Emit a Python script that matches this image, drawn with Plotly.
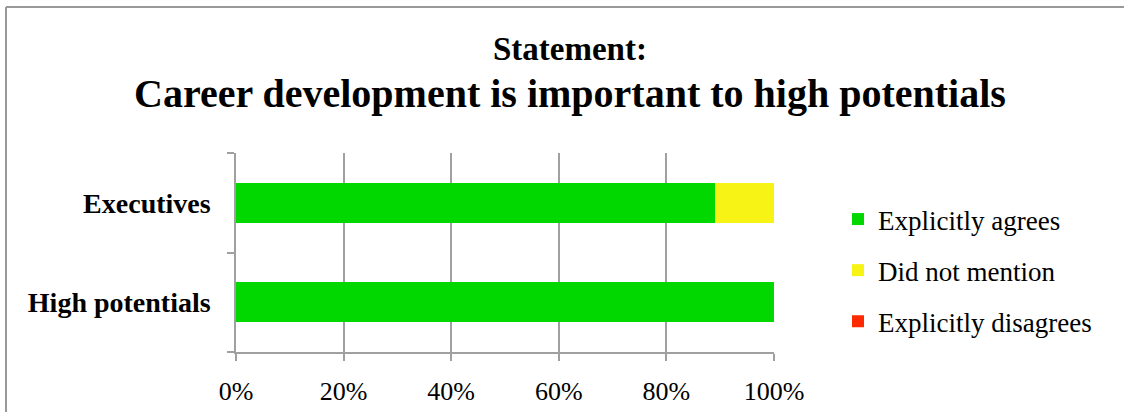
import plotly.graph_objects as go

# Survey responses (share of respondents, %)
groups = ["High potentials", "Executives"]
explicitly_agrees = [100, 89]
did_not_mention = [0, 11]
explicitly_disagrees = [0, 0]

series = [
    ("Explicitly agrees", explicitly_agrees, "#00d800"),
    ("Did not mention", did_not_mention, "#f7f314"),
    ("Explicitly disagrees", explicitly_disagrees, "#ff2a00"),
]

W, H = 1124, 412
L, R, T, B = 236, 350, 153, 60
pw, ph = W - L - R, H - T - B

SERIF = "Liberation Serif, Times New Roman, serif"

fig = go.Figure()
for i, (name, vals, color) in enumerate(series):
    fig.add_trace(go.Bar(
        y=groups, x=vals, name=name, orientation="h",
        marker=dict(color=color, line=dict(width=0)),
        legendgroup=f"g{i}",
    ))

def px_x(p):
    return (p - L) / pw

def px_y(p):
    return (H - B - p) / ph

frame = dict(color="#999999", width=2)

fig.update_layout(
    width=W, height=H,
    margin=dict(l=L, r=R, t=T, b=B),
    barmode="stack", bargap=0.6,
    paper_bgcolor="white", plot_bgcolor="white",
    font=dict(family=SERIF, color="black"),
    showlegend=True,
    legend=dict(
        x=px_x(838), y=px_y(195), xanchor="left", yanchor="top",
        font=dict(family=SERIF, size=27, color="black"),
        traceorder="grouped", tracegroupgap=13,
        bgcolor="rgba(0,0,0,0)",
    ),
    xaxis=dict(
        range=[0, 100], tickvals=[0, 20, 40, 60, 80, 100],
        ticktext=["0%", "20%", "40%", "60%", "80%", "100%"],
        showgrid=True, gridcolor="#a0a0a0", gridwidth=1.5,
        showline=True, linecolor="#a0a0a0", linewidth=1.5,
        ticks="outside", ticklen=7, tickcolor="#a0a0a0", tickwidth=1.5,
        tickfont=dict(family=SERIF, size=26, color="black"),
        ticklabelstandoff=8, automargin=False,
        zeroline=False, fixedrange=True,
    ),
    yaxis=dict(
        categoryorder="array", categoryarray=groups,
        showline=True, linecolor="#a0a0a0", linewidth=1.5,
        ticks="outside", ticklen=7, tickcolor="#a0a0a0", tickwidth=1.5,
        tickson="boundaries",
        tickprefix="<b>", ticksuffix="</b>",
        tickfont=dict(family=SERIF, size=28, color="black"),
        ticklabelstandoff=18, automargin=False,
        fixedrange=True,
    ),
    annotations=[
        dict(text="<b>Statement:</b>", x=px_x(570), y=px_y(49), xref="paper", yref="paper",
             xanchor="center", yanchor="middle",
             showarrow=False, font=dict(family=SERIF, size=33, color="black")),
        dict(text="<b>Career development is important to high potentials</b>",
             x=px_x(570), y=px_y(93), xref="paper", yref="paper",
             xanchor="center", yanchor="middle",
             showarrow=False, font=dict(family=SERIF, size=40, color="black")),
    ],
    shapes=[
        # chart frame: left and top edges
        dict(type="line", xref="paper", yref="paper",
             x0=px_x(6), x1=px_x(6), y0=px_y(440), y1=px_y(7), line=frame, layer="below"),
        dict(type="line", xref="paper", yref="paper",
             x0=px_x(6), x1=px_x(1150), y0=px_y(7), y1=px_y(7), line=frame, layer="below"),
    ],
)

fig.write_html("out.html")
